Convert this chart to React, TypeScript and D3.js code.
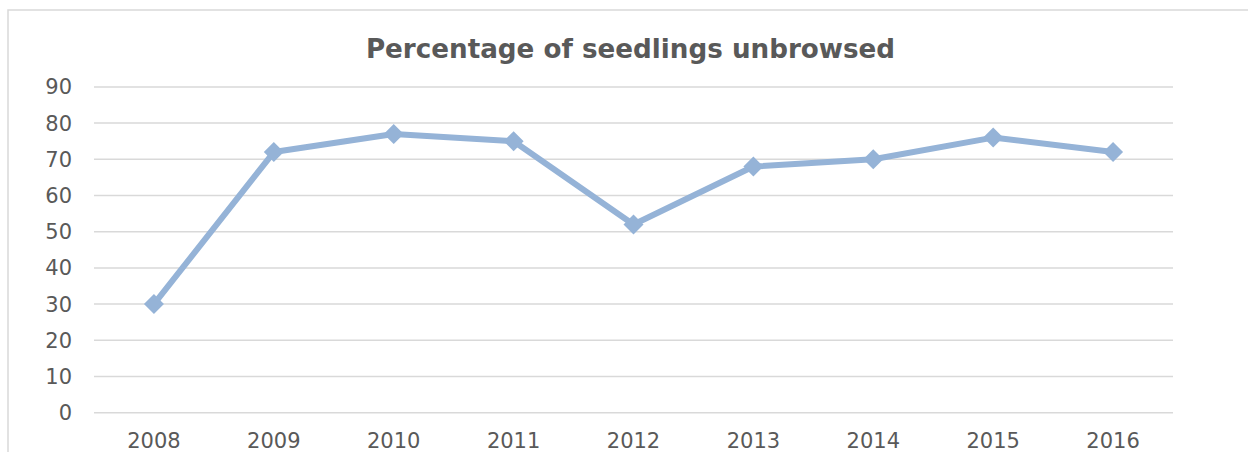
import React from "react";
import * as d3 from "d3";

const years = ["2008", "2009", "2010", "2011", "2012", "2013", "2014", "2015", "2016"];
const unbrowsed = [30, 72, 77, 75, 52, 68, 70, 76, 72];
const yTicks = [0, 10, 20, 30, 40, 50, 60, 70, 80, 90];
const title = "Percentage of seedlings unbrowsed";

export default function App() {
  const W = 1248, H = 452;
  const left = 94, right = 1173, top = 86.9, bottom = 412.7;
  const x = d3.scaleBand<string>().domain(years).range([left, right]);
  const y = d3.scaleLinear().domain([0, 90]).range([bottom, top]);
  const line = d3.line<number>()
    .x((_, i) => (x(years[i]) as number) + x.bandwidth() / 2)
    .y((d) => y(d));
  const font = "'DejaVu Sans', Verdana, sans-serif";
  const col = "#595959";
  const lineCol = "#95B3D7";
  const r = 10;
  return (
    <svg width={W} height={H} style={{ position: "absolute", left: 0, top: 0, background: "#fff" }}>
      <rect x={8} y={10} width={1400} height={600} fill="#fff" stroke="#D9D9D9" strokeWidth={1.5} />
      <text x={(left + right) / 2 - 3} y={58} textAnchor="middle" fontFamily={font} fontWeight="bold" fontSize={26.2} fill={col}>
        {title}
      </text>
      {yTicks.map((t) => (
        <g key={t}>
          <line x1={left} x2={right} y1={y(t)} y2={y(t)} stroke="#D9D9D9" strokeWidth={1.5} />
          <text x={72} y={y(t)} dy="0.36em" textAnchor="end" fontFamily={font} fontSize={21} fill={col}>
            {t}
          </text>
        </g>
      ))}
      {years.map((yr) => (
        <text key={yr} x={(x(yr) as number) + x.bandwidth() / 2} y={448} textAnchor="middle" fontFamily={font} fontSize={21} fill={col}>
          {yr}
        </text>
      ))}
      <path d={line(unbrowsed) || ""} fill="none" stroke={lineCol} strokeWidth={6} strokeLinejoin="round" />
      {unbrowsed.map((v, i) => {
        const cx = (x(years[i]) as number) + x.bandwidth() / 2;
        const cy = y(v);
        return (
          <path key={i} d={`M${cx},${cy - r}L${cx + r},${cy}L${cx},${cy + r}L${cx - r},${cy}Z`} fill={lineCol} />
        );
      })}
    </svg>
  );
}
